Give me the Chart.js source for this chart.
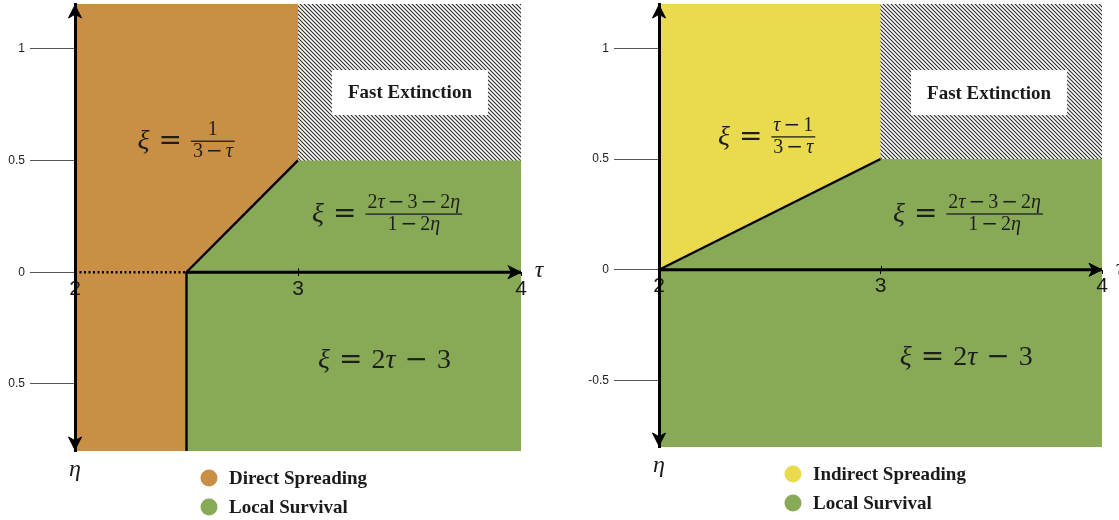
<!DOCTYPE html>
<html>
<head>
<meta charset="utf-8">
<script src="https://cdn.jsdelivr.net/npm/chart.js@4.4.1/dist/chart.umd.min.js"></script>
<style>
  body { margin: 0; background: #fff; width: 1119px; height: 520px; overflow: hidden; position: relative; }
  #wrapLeft { position: absolute; left: 8px; top: 0; width: 551px; height: 520px; overflow: hidden; }
  #leftChart { display: block; margin-left: -8px; }
  #rightChart { position: absolute; left: 559px; top: 0; display: block; }
</style>
</head>
<body>
<div id="wrapLeft"><canvas id="leftChart" width="560" height="520"></canvas></div>
<canvas id="rightChart" width="560" height="520"></canvas>
<script>
// axes
const tauRange = [2, 4];
const etaRange = [-0.8, 1.2];
const tauTicks = [2, 3, 4];
const tauTickLabels = ['2', '3', '4'];
const etaTicks = [-0.5, 0, 0.5, 1];
const etaTickLabels = ['-0.5', '0', '0.5', '1'];

// left panel regions (tau, eta)
const directTau = [2, 3, 3, 2.5, 2.5, 2, 2];
const directEta = [1.2, 1.2, 0.5, 0, -0.8, -0.8, 1.2];
const survivalLeftTau = [3, 4, 4, 2.5, 2.5, 3];
const survivalLeftEta = [0.5, 0.5, -0.8, -0.8, 0, 0.5];
const borderLeftTau = [3, 2.5, 2.5];
const borderLeftEta = [0.5, 0, -0.8];
const dottedTau = [2, 2.5];
const dottedEta = [0, 0];
const axisLeftTau = [2.5, 4];

// right panel regions
const indirectTau = [2, 3, 3, 2, 2];
const indirectEta = [1.2, 1.2, 0.5, 0, 1.2];
const survivalRightTau = [2, 3, 4, 4, 2, 2];
const survivalRightEta = [0, 0.5, 0.5, -0.8, -0.8, 0];
const borderRightTau = [2, 3];
const borderRightEta = [0, 0.5];
const axisRightTau = [2, 4];

// shared
const extinctionTau = [3, 4, 4, 3, 3];
const extinctionEta = [1.2, 1.2, 0.5, 0.5, 1.2];
const axisEta = [0, 0];

const legendLeftLabels = ['Direct Spreading', 'Local Survival'];
const legendRightLabels = ['Indirect Spreading', 'Local Survival'];

const ORANGE = '#C98F44';
const GREEN = '#88AA56';
const YELLOW = '#EADA4E';

function pts(xs, ys) {
  return xs.map((x, i) => ({ x: x, y: ys[i] }));
}

function makeHatch() {
  const c = document.createElement('canvas');
  c.width = 4; c.height = 4;
  const g = c.getContext('2d');
  g.fillStyle = '#fff';
  g.fillRect(0, 0, 4, 4);
  g.strokeStyle = '#2a2a2a';
  g.lineWidth = 1.1;
  g.beginPath();
  g.moveTo(-1, -1); g.lineTo(5, 5);
  g.moveTo(3, -1); g.lineTo(5, 1);
  g.moveTo(-1, 3); g.lineTo(1, 5);
  g.stroke();
  return g.createPattern(c, 'repeat');
}
const hatch = makeHatch();

function area(xs, ys, color) {
  return {
    data: pts(xs, ys), fill: 'shape', backgroundColor: color,
    borderColor: color === hatch ? 'rgba(0,0,0,0)' : color, borderWidth: 1,
    pointRadius: 0, tension: 0
  };
}
function line(xs, ys, width, dash) {
  return {
    data: pts(xs, ys), fill: false, borderColor: '#000', borderWidth: width,
    borderDash: dash || [], pointRadius: 0, tension: 0, borderCapStyle: 'butt'
  };
}

// little math typesetter
function runs(str) {
  return Array.from(str).map(ch => {
    let kind = 'n';
    if ('ξτη'.includes(ch)) kind = 'i';
    else if ('=−'.includes(ch)) kind = 'o';
    return { ch, kind };
  });
}
function fontFor(kind, size) {
  if (kind === 'i') return 'italic ' + size + 'px "Liberation Serif"';
  if (kind === 'o') return size + 'px "DejaVu Serif"';
  return size + 'px "Liberation Serif"';
}
function mathWidth(ctx, str, size, gap) {
  let w = 0;
  runs(str).forEach(r => {
    ctx.font = fontFor(r.kind, size);
    w += ctx.measureText(r.ch).width;
    if (r.kind === 'o') w += 2 * gap;
  });
  return w;
}
function drawMath(ctx, str, x, y, size, gap) {
  runs(str).forEach(r => {
    ctx.font = fontFor(r.kind, size);
    if (r.kind === 'o') x += gap;
    ctx.fillText(r.ch, x, y);
    x += ctx.measureText(r.ch).width;
    if (r.kind === 'o') x += gap;
  });
  return x;
}

function arrowHead(ctx, x, y, angle) {
  const L = 13, W = 6.5;
  ctx.save();
  ctx.translate(x, y);
  ctx.rotate(angle);
  ctx.beginPath();
  ctx.moveTo(0, 0);
  ctx.quadraticCurveTo(-L * 0.45, -W * 0.45, -L, -W);
  ctx.lineTo(-L * 0.72, 0);
  ctx.lineTo(-L, W);
  ctx.quadraticCurveTo(-L * 0.45, W * 0.45, 0, 0);
  ctx.closePath();
  ctx.fillStyle = '#000';
  ctx.fill();
  ctx.lineWidth = 1;
  ctx.strokeStyle = '#000';
  ctx.stroke();
  ctx.restore();
}

const decorPlugin = {
  id: 'decor',
  afterDraw(chart, args, o) {
    const { ctx, chartArea } = chart;
    const sx = chart.scales.x, sy = chart.scales.y;
    const px = v => sx.getPixelForValue(v);
    const py = v => sy.getPixelForValue(v);
    ctx.save();

    // axis arrows
    arrowHead(ctx, px(tauRange[0]), py(etaRange[1]) + 1, -Math.PI / 2);
    arrowHead(ctx, px(tauRange[0]), py(etaRange[0]) - 1, Math.PI / 2);
    arrowHead(ctx, px(tauRange[1]), py(0), 0);

    // small tick above the tau axis at 3
    ctx.strokeStyle = '#000';
    ctx.lineWidth = 1;
    ctx.beginPath();
    ctx.moveTo(Math.round(px(3)) + 0.5, py(0) - 4);
    ctx.lineTo(Math.round(px(3)) + 0.5, py(0));
    ctx.stroke();

    // axis names
    ctx.fillStyle = '#1a1a1a';
    ctx.font = 'italic 24px "Liberation Serif"';
    ctx.textAlign = 'center';
    ctx.textBaseline = 'alphabetic';
    ctx.fillText('τ', px(tauRange[1]) + 18, py(0) + 5);
    ctx.fillText('η', px(tauRange[0]), chartArea.bottom + 25);

    // fast extinction box
    const bx = px(o.box.tau), by = py(o.box.eta);
    ctx.fillStyle = '#fff';
    ctx.fillRect(bx - 78, by - 22.5, 156, 45);
    ctx.fillStyle = '#1a1a1a';
    ctx.font = 'bold 19px "Liberation Serif"';
    ctx.textBaseline = 'middle';
    ctx.fillText('Fast Extinction', bx, by + 1);

    // formulas
    ctx.textAlign = 'left';
    ctx.textBaseline = 'alphabetic';
    ctx.fillStyle = '#1e1e1e';
    o.formulas.forEach(f => {
      const big = 28, small = 20;
      let x = px(f.tau);
      const y = py(f.eta);
      x = drawMath(ctx, f.lhs, x, y + 8, big, 9);
      if (f.num) {
        const nw = mathWidth(ctx, f.num, small, 3);
        const dw = mathWidth(ctx, f.den, small, 3);
        const bw = Math.max(nw, dw) + 4;
        ctx.fillRect(x, y - 0.65, bw, 1.3);
        drawMath(ctx, f.num, x + (bw - nw) / 2, y - 6, small, 3);
        drawMath(ctx, f.den, x + (bw - dw) / 2, y + 16, small, 3);
      }
    });

    // legend
    o.legend.labels.forEach((label, i) => {
      const cx = chartArea.left + 134;
      const cy = chartArea.bottom + 27 + i * 29;
      ctx.beginPath();
      ctx.arc(cx, cy, 8.5, 0, Math.PI * 2);
      ctx.fillStyle = o.legend.colors[i];
      ctx.fill();
      ctx.fillStyle = '#1a1a1a';
      ctx.font = 'bold 19px "Liberation Serif"';
      ctx.textBaseline = 'middle';
      ctx.fillText(label, cx + 20, cy + 1);
    });
    ctx.restore();
  }
};

function makeScales(axisWidth) {
  return {
    x: {
      type: 'linear', min: tauRange[0], max: tauRange[1],
      position: { y: 0 },
      afterBuildTicks: s => { s.ticks = tauTicks.map(v => ({ value: v })); },
      ticks: {
        callback: (v, i) => tauTickLabels[i],
        font: { family: 'Liberation Sans', size: 21 }, color: '#1a1a1a',
        padding: 0, maxRotation: 0, autoSkip: false, z: 1
      },
      grid: { drawOnChartArea: false, tickLength: 4, color: '#000', lineWidth: 1, z: 1 },
      border: { display: false }
    },
    y: {
      type: 'linear', min: etaRange[0], max: etaRange[1],
      position: 'left',
      afterBuildTicks: s => { s.ticks = etaTicks.map(v => ({ value: v })); },
      afterFit: s => { s.width = axisWidth; s.paddingTop = 0; s.paddingBottom = 0; },
      ticks: {
        callback: (v, i) => etaTickLabels[i],
        font: { family: 'Liberation Sans', size: 12 }, color: '#222', padding: 5, z: 1
      },
      grid: { drawOnChartArea: false, tickLength: 45, color: '#555', lineWidth: 1, z: 1 },
      border: { display: true, color: '#000', width: 3, z: 1 }
    }
  };
}

function baseOptions(axisWidth, pad, decor) {
  return {
    responsive: false, animation: false, events: [],
    layout: { padding: pad },
    scales: makeScales(axisWidth),
    plugins: { legend: { display: false }, tooltip: { enabled: false }, decor: decor }
  };
}

new Chart(document.getElementById('leftChart'), {
  type: 'line',
  data: {
    datasets: [
      line(borderLeftTau, borderLeftEta, 2.4),
      line(axisLeftTau, axisEta, 3),
      line(dottedTau, dottedEta, 2.5, [2, 2.5]),
      area(extinctionTau, extinctionEta, hatch),
      area(directTau, directEta, ORANGE),
      area(survivalLeftTau, survivalLeftEta, GREEN)
    ]
  },
  options: baseOptions(75, { left: 0, top: 4, right: 39, bottom: 69 }, {
    box: { tau: 3.502, eta: 0.804 },
    formulas: [
      { tau: 2.28, eta: 0.586, lhs: 'ξ=', num: '1', den: '3−τ' },
      { tau: 3.063, eta: 0.26, lhs: 'ξ=', num: '2τ−3−2η', den: '1−2η' },
      { tau: 3.09, eta: -0.393, lhs: 'ξ=2τ−3' }
    ],
    legend: { labels: legendLeftLabels, colors: [ORANGE, GREEN] }
  }),
  plugins: [decorPlugin]
});

new Chart(document.getElementById('rightChart'), {
  type: 'line',
  data: {
    datasets: [
      line(borderRightTau, borderRightEta, 2.4),
      line(axisRightTau, axisEta, 3),
      area(extinctionTau, extinctionEta, hatch),
      area(indirectTau, indirectEta, YELLOW),
      area(survivalRightTau, survivalRightEta, GREEN)
    ]
  },
  options: baseOptions(100, { left: 0, top: 4, right: 17, bottom: 73 }, {
    box: { tau: 3.49, eta: 0.80 },
    formulas: [
      { tau: 2.266, eta: 0.6, lhs: 'ξ=', num: 'τ−1', den: '3−τ' },
      { tau: 3.056, eta: 0.252, lhs: 'ξ=', num: '2τ−3−2η', den: '1−2η' },
      { tau: 3.087, eta: -0.394, lhs: 'ξ=2τ−3' }
    ],
    legend: { labels: legendRightLabels, colors: [YELLOW, GREEN] }
  }),
  plugins: [decorPlugin]
});
</script>
</body>
</html>
